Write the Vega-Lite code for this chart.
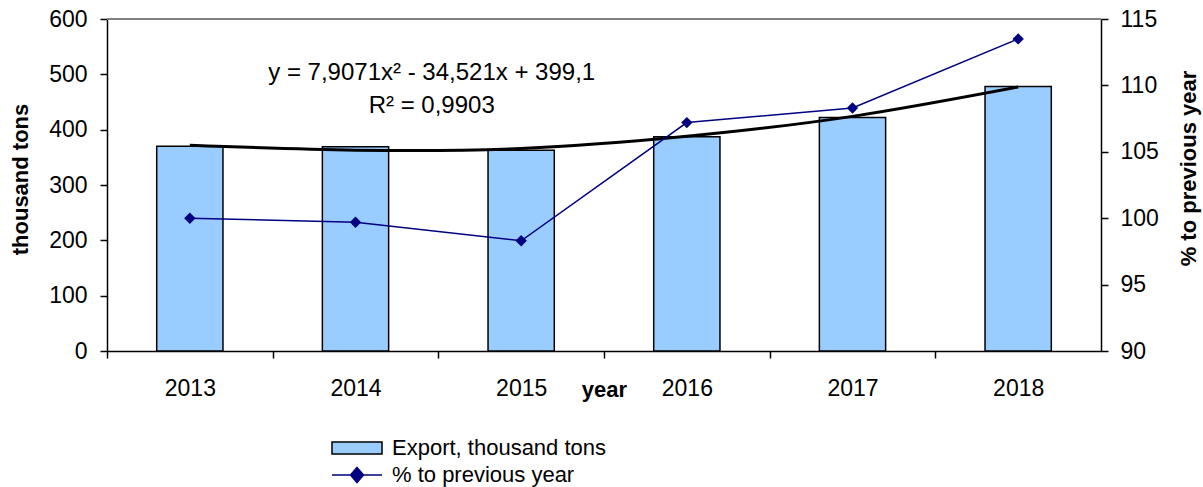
{
  "$schema": "https://vega.github.io/schema/vega-lite/v6.json",
  "width": 994,
  "height": 332,
  "autosize": "none",
  "padding": {"left": 107, "top": 19, "right": 102, "bottom": 136},
  "background": "white",
  "config": {
    "view": {"stroke": null},
    "font": "Liberation Sans",
    "axis": {
      "labelFont": "Liberation Sans",
      "titleFont": "Liberation Sans",
      "labelColor": "black",
      "titleColor": "black",
      "domainColor": "black",
      "tickColor": "black",
      "labelFontSize": 23,
      "titleFontSize": 22,
      "domainWidth": 1.5,
      "tickWidth": 1.5,
      "grid": false,
      "labelFlush": false,
      "labelOverlap": false
    }
  },
  "data": {
    "values": [
      {"year": "2013", "export": 370, "pct": 100.0, "trend": 372},
      {"year": "2014", "export": 369, "pct": 99.7, "trend": 363},
      {"year": "2015", "export": 363, "pct": 98.3, "trend": 366},
      {"year": "2016", "export": 387, "pct": 107.2, "trend": 388},
      {"year": "2017", "export": 422, "pct": 108.3, "trend": 424},
      {"year": "2018", "export": 478, "pct": 113.5, "trend": 477}
    ]
  },
  "encoding": {
    "x": {
      "field": "year",
      "type": "nominal",
      "scale": {"paddingInner": 0.6, "paddingOuter": 0.3},
      "axis": {
        "title": "year",
        "titleFontWeight": "bold",
        "titleFontSize": 22,
        "labelFontSize": 23,
        "labelAngle": 0,
        "tickSize": 7,
        "labelPadding": 37,
        "labelBaseline": "alphabetic",
        "bandPosition": 0.5,
        "tickOffset": -82.83,
        "labelOffset": 82.83,
        "titleY": 45,
        "titleBaseline": "alphabetic"
      }
    }
  },
  "layer": [
    {
      "layer": [
        {
          "mark": {"type": "rule", "color": "#808080", "strokeWidth": 1.5},
          "encoding": {"x": null, "y": {"datum": 600, "type": "quantitative", "scale": {"domain": [0, 600]}}}
        },
        {
          "mark": {"type": "bar", "stroke": "black", "strokeWidth": 1.5},
          "encoding": {
            "y": {
              "field": "export",
              "type": "quantitative",
              "scale": {"domain": [0, 600]},
              "axis": {
                "title": "thousand tons",
                "titleFontWeight": "bold",
                "titleFontSize": 22,
                "labelFontSize": 23,
                "values": [0, 100, 200, 300, 400, 500, 600],
                "tickSize": 7,
                "labelPadding": 13,
                "titleX": -87,
                "titleY": 160,
                "titleAngle": -90,
                "titleBaseline": "middle",
                "titleAlign": "center"
              }
            },
            "fill": {
              "datum": "Export, thousand tons",
              "type": "nominal",
              "scale": {"range": ["#99CCFF"]},
              "legend": {
                "orient": "none",
                "legendX": 224,
                "legendY": 403,
                "title": null,
                "padding": 0,
                "symbolType": "M-1,-0.24H1V0.24H-1Z",
                "symbolSize": 2500,
                "symbolStrokeColor": "black",
                "symbolStrokeWidth": 1.5,
                "labelFont": "Liberation Sans",
                "labelFontSize": 22,
                "labelColor": "black",
                "labelOffset": 9,
                "labelLimit": 0
              }
            }
          }
        },
        {
          "mark": {"type": "line", "color": "black", "strokeWidth": 3, "interpolate": "natural"},
          "encoding": {
            "y": {"field": "trend", "type": "quantitative", "scale": {"domain": [0, 600]}}
          }
        },
        {
          "data": {"values": [{"eq": "y = 7,9071x² - 34,521x + 399,1", "v": 502}, {"eq": "R² = 0,9903", "v": 442}]},
          "mark": {"type": "text", "fontSize": 24, "align": "center", "baseline": "middle", "color": "black"},
          "encoding": {
            "x": {"datum": "2014", "type": "nominal", "bandPosition": 1.65},
            "y": {"field": "v", "type": "quantitative", "scale": {"domain": [0, 600]}},
            "text": {"field": "eq"}
          }
        }
      ]
    },
    {
      "layer": [
        {
          "mark": {"type": "line", "strokeWidth": 1.5},
          "encoding": {
            "y": {
              "field": "pct",
              "type": "quantitative",
              "scale": {"domain": [90, 115]},
              "axis": {
                "orient": "right",
                "title": "% to previous year",
                "titleFontWeight": "bold",
                "titleFontSize": 22,
                "labelFontSize": 23,
                "values": [90, 95, 100, 105, 110, 115],
                "tickSize": 7,
                "labelPadding": 12,
                "titleX": 87,
                "titleY": 149,
                "titleAngle": -90,
                "titleBaseline": "middle",
                "titleAlign": "center"
              }
            },
            "stroke": {
              "datum": "% to previous year",
              "type": "nominal",
              "scale": {"range": ["#000080"]},
              "legend": {
                "orient": "none",
                "legendX": 224,
                "legendY": 430,
                "title": null,
                "padding": 0,
                "symbolType": "M-1,0H1M0,-0.3L0.26,0L0,0.3L-0.26,0Z",
                "symbolSize": 2500,
                "symbolFillColor": "#000080",
                "symbolStrokeWidth": 1.5,
                "labelFont": "Liberation Sans",
                "labelFontSize": 22,
                "labelColor": "black",
                "labelOffset": 9,
                "labelLimit": 0,
                "encode": {"symbols": {"update": {"fill": {"value": "#000080"}, "stroke": {"value": "#000080"}}}}
              }
            }
          }
        },
        {
          "mark": {"type": "point", "shape": "diamond", "filled": true, "color": "#000080", "opacity": 1, "size": 130},
          "encoding": {
            "y": {"field": "pct", "type": "quantitative", "scale": {"domain": [90, 115]}}
          }
        }
      ]
    }
  ],
  "resolve": {"scale": {"y": "independent"}, "axis": {"y": "independent"}}
}
